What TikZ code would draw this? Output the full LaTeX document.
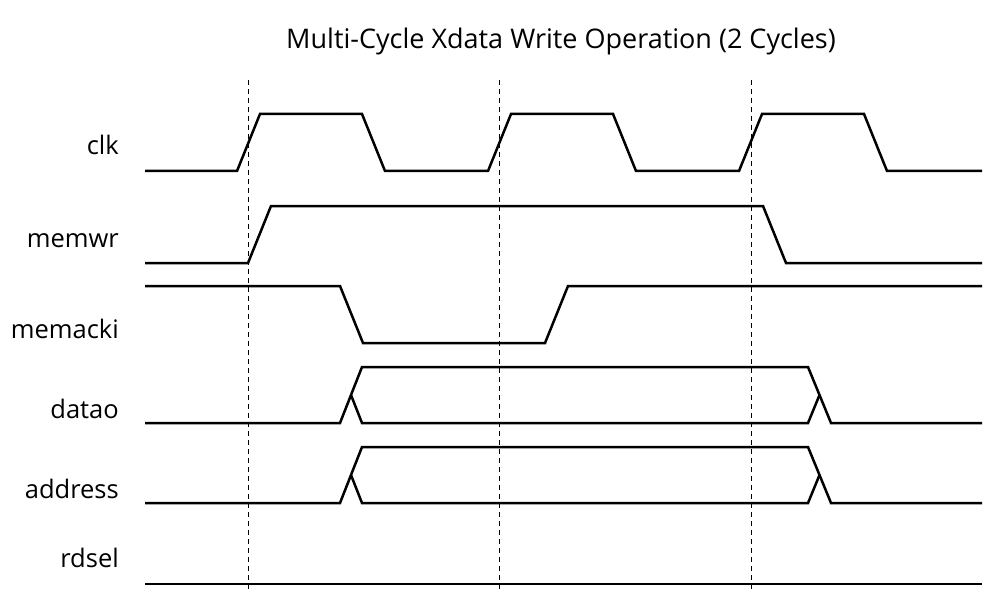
\documentclass[tikz,border=0pt]{standalone}
\usepackage{fontspec}
\setmainfont{Open Sans}

\begin{document}
\begin{tikzpicture}[x=1pt, y=-1pt,
        sig/.style={line width=2.5pt, line join=miter},
        grid/.style={line width=0.9pt, dash pattern=on 5pt off 4pt},
        lbl/.style={anchor=base east, inner sep=0pt, font=\fontsize{25.5}{30}\selectfont}]
    \useasboundingbox (0,0) rectangle (984,596);

    \node [anchor=base, inner sep=0pt, font=\fontsize{27}{32}\selectfont] (title) at (561,49) {Multi-Cycle Xdata Write Operation (2 Cycles)};

    % signal names
    \node [lbl] (clk) at (119,155) {clk};
    \node [lbl] (memwr) at (119,247) {memwr};
    \node [lbl] (memacki) at (119,338) {memacki};
    \node [lbl] (datao) at (119,418) {datao};
    \node [lbl] (address) at (119,498) {address};
    \node [lbl] (rdsel) at (119,567) {rdsel};

    \foreach \x in {248,499,751}
        \draw [grid] (\x,80) -- (\x,592);

    \draw [sig] (145,171) -- (237,171) -- (260,114) -- (362,114) -- (385,171) -- (488,171)
        -- (511,114) -- (613,114) -- (636,171) -- (739,171) -- (762,114) -- (864,114)
        -- (887,171) -- (982,171);

    \draw [sig] (145,263) -- (248,263) -- (271,206) -- (763,206) -- (786,263) -- (982,263);

    \draw [sig] (145,286) -- (340,286) -- (363,343) -- (545,343) -- (568,286) -- (982,286);

    % datao and address
    \foreach \s in {0,80} {
        \begin{scope}[yshift=-\s pt]
        \draw [sig] (145,423) -- (340,423) -- (362,367) -- (808,367) -- (831,423) -- (982,423);
        \draw [sig] (351,395) -- (362,423) -- (808,423) -- (819.5,395);
        \end{scope}
    }

    \draw [sig] (145,584) -- (982,584);
\end{tikzpicture}
\end{document}
